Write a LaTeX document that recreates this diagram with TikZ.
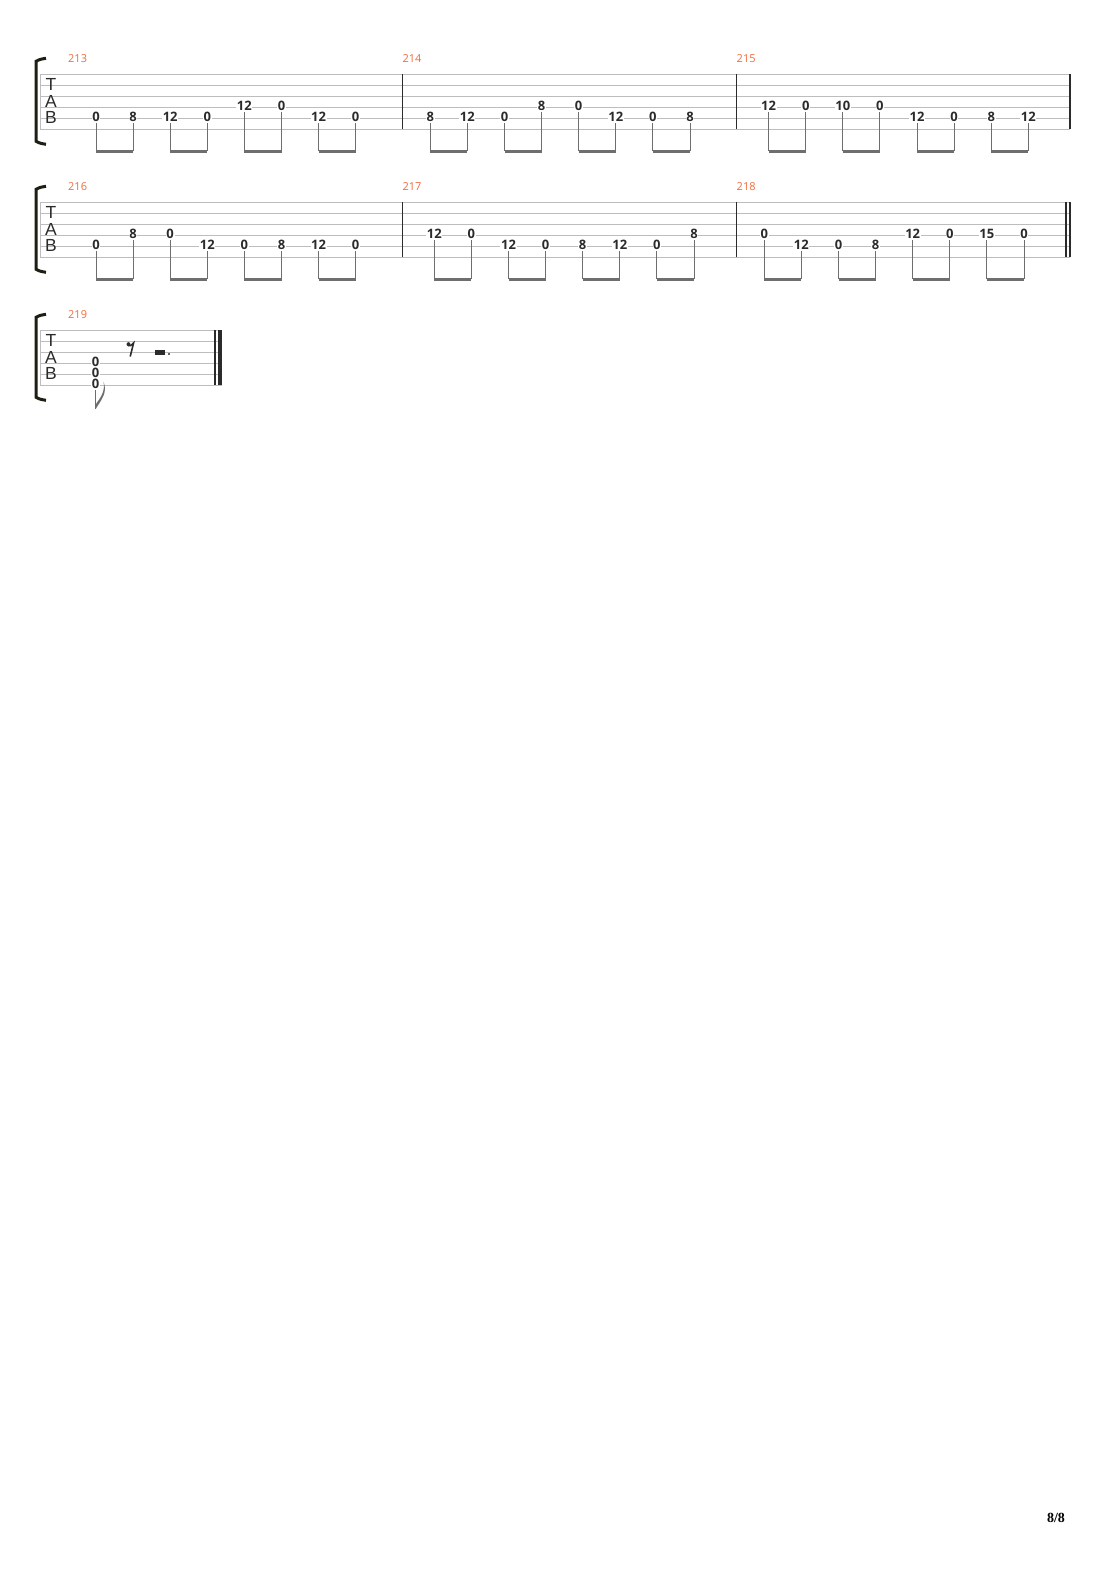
\documentclass[tikz,border=0pt]{standalone}
\usepackage{fontspec}
\setmainfont{Open Sans}
\newfontfamily\tabletterfont{Liberation Sans}
\newfontfamily\pagefont{Liberation Serif}
\definecolor{staffgray}{HTML}{BDBDBD}
\definecolor{inkgray}{HTML}{2B2B2B}
\definecolor{stemgray}{HTML}{6E6E6E}
\definecolor{barnumcolor}{HTML}{F26B3A}
\definecolor{bracketblack}{HTML}{1E1E14}
\tikzset{
  staffline/.style={staffgray, line width=0.9pt},
  barline/.style={inkgray, line width=1.2pt},
  fret/.style={font=\bfseries\fontsize{13}{13}\selectfont, text=inkgray, fill=white, inner sep=0.6pt},
  stem/.style={stemgray, line width=1pt, shorten <=1pt},
  beam/.style={stemgray, line width=2.6pt},
  barnumber/.style={font=\fontsize{11}{11}\selectfont, text=barnumcolor, anchor=west, inner sep=0pt},
  tabletter/.style={font=\tabletterfont\fontsize{17.5}{17.5}\selectfont, text=inkgray, inner sep=0pt},
  bracket/.style={bracketblack, line width=3pt},
}
% #1 row name, #2 top line, #3 right end
\newcommand{\tabstaff}[3]{%
  \foreach \s in {0,...,5}
    \draw[staffline] (40,{#2+11*\s}) -- (#3,{#2+11*\s});
  \draw[staffline] (40,#2) -- (40,{#2+55});
  \draw[bracket] (46,{#2-16}) .. controls (40,{#2-15}) .. (36,{#2-13}) -- (36,{#2+67}) .. controls (40,{#2+69}) .. (46,{#2+70});
  \node[tabletter] (#1T) at (51,{#2+10.2}) {T};
  \node[tabletter] (#1A) at (51,{#2+27.2}) {A};
  \node[tabletter] (#1B) at (51,{#2+43.2}) {B};
}
% #1 bar number, #2 first note x, #3 top line, #4 notes i/string/fret
\newcommand{\tabmeasure}[4]{%
  \foreach \i/\s/\f in {#4} {
    \node[fret] (m#1n\i) at ({#2+37.1*(\i-1)},{#3+11*(\s-1)-1.5}) {\f};
    \coordinate (m#1b\i) at ({#2+37.1*(\i-1)},{#3+77});
    \draw[stem] (m#1n\i.south) -- (m#1b\i);
  }
  \foreach \i in {1,3,5,7} {
    \pgfmathtruncatemacro{\j}{\i+1}
    \draw[beam] (m#1b\i) -- (m#1b\j);
  }
}
\begin{document}
\begin{tikzpicture}[x=1pt, y=-1pt]
  \useasboundingbox (0,0) rectangle (1110,1570);
  % staves
  \tabstaff{rowa}{74.3}{1070}
  \tabstaff{rowb}{202.3}{1070}
  \tabstaff{rowc}{330.3}{222}
  % bar lines
  \foreach \x in {402.3,736.5,1070}
    \draw[barline] (\x,74.3) -- (\x,129.3);
  \foreach \x in {402.3,736.5,1066,1070}
    \draw[barline] (\x,202.3) -- (\x,257.3);
  \draw[barline] (215,330.3) -- (215,385.3);
  \draw[inkgray, line width=4pt] (220,330.3) -- (220,385.3);
  % bar numbers
  \node[barnumber] (num213) at (68,58.3) {213};
  \node[barnumber] (num214) at (402.3,58.3) {214};
  \node[barnumber] (num215) at (736.5,58.3) {215};
  \node[barnumber] (num216) at (68,186.3) {216};
  \node[barnumber] (num217) at (402.3,186.3) {217};
  \node[barnumber] (num218) at (736.5,186.3) {218};
  \node[barnumber] (num219) at (68,314.3) {219};
  % notes
  \tabmeasure{213}{96}{74.3}{1/5/0,2/5/8,3/5/12,4/5/0,5/4/12,6/4/0,7/5/12,8/5/0}
  \tabmeasure{214}{430.3}{74.3}{1/5/8,2/5/12,3/5/0,4/4/8,5/4/0,6/5/12,7/5/0,8/5/8}
  \tabmeasure{215}{768.6}{74.3}{1/4/12,2/4/0,3/4/10,4/4/0,5/5/12,6/5/0,7/5/8,8/5/12}
  \tabmeasure{216}{96}{202.3}{1/5/0,2/4/8,3/4/0,4/5/12,5/5/0,6/5/8,7/5/12,8/5/0}
  \tabmeasure{217}{434.3}{202.3}{1/4/12,2/4/0,3/5/12,4/5/0,5/5/8,6/5/12,7/5/0,8/4/8}
  \tabmeasure{218}{764.3}{202.3}{1/4/0,2/5/12,3/5/0,4/5/8,5/4/12,6/4/0,7/4/15,8/4/0}
  % last bar: chord and rests
  \foreach \i/\s in {1/4,2/5,3/6}
    \node[fret] (m219n\i) at (95.7,{330.3+11*(\s-1)-1.5}) {0};
  \coordinate (m219b) at (95.7,409);
  \draw[stem] (m219n3.south) -- (m219b);
  \fill[stemgray] (m219b) .. controls (101,400) and (108,393) .. (103.5,381.5)
    .. controls (105.5,392) and (100,398) .. (95.7,404.5) -- cycle;
  \fill[inkgray] (128.5,344.2) circle (2);
  \draw[inkgray, line width=1.6pt] (128,345.5) .. controls (130.5,346) .. (133.6,343) -- (130.2,356.5);
  \fill[inkgray] (155,350) rectangle (164.5,354.5);
  \fill[inkgray] (169,354) circle (1.2);
  % page number
  \node[font=\pagefont\bfseries\fontsize{14}{14}\selectfont, text=black] (pagenum) at (1056,1518) {8/8};
\end{tikzpicture}
\end{document}
